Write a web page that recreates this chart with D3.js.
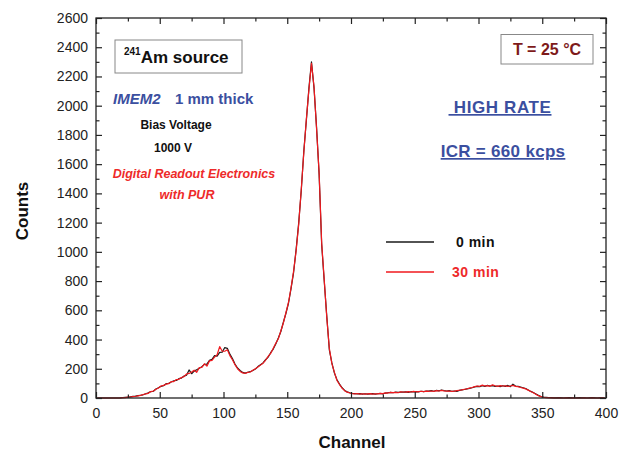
<!DOCTYPE html>
<meta charset="utf-8">
<style>
  body { margin: 0; background: #fff; }
  text { font-family: "Liberation Sans", Arial, sans-serif; }
</style>
<script src="https://cdn.jsdelivr.net/npm/d3@7"></script>
<div id="chart"></div>
<script>

// channels sampled every 2 (odd channels 1..399)
var channels = d3.range(1, 400, 2);

// 0 min spectrum (black)
var counts0 = [
  0,0,0,0,0,0,0,0,0,0,
  2,4,5,8,11,13,16,19,22,29,
  35,44,46,62,70,80,84,98,100,110,
  118,120,132,136,150,156,192,166,184,194,
  204,214,230,232,258,264,290,286,312,314,
  345,340,300,270,232,205,188,175,170,176,
  180,188,198,215,228,240,262,280,310,335,
  370,410,455,520,580,650,750,860,1020,1200,
  1420,1690,1900,2120,2300,2120,1850,1530,1050,800,
  560,330,240,170,125,95,70,52,42,36,
  32,30,28,30,27,29,26,28,30,27,
  29,31,28,34,36,38,36,40,38,41,
  40,42,39,43,41,44,42,46,44,48,
  47,50,46,52,49,55,51,48,50,46,
  48,45,52,55,58,62,66,70,76,80,
  78,84,80,86,82,85,80,82,78,84,
  80,86,78,95,82,80,75,70,65,55,
  45,38,28,18,10,6,4,2,2,1,
  1,2,1,0,1,2,1,0,1,2,1,1,0,1,2,1,0,1,1,0
];

// 30 min spectrum (red)
var counts30 = [
  0,0,0,0,0,0,0,0,0,1,
  3,3,6,7,10,12,15,18,24,28,
  32,44,48,60,68,82,86,95,98,112,
  112,126,128,140,146,164,168,178,190,176,
  208,210,234,218,254,258,280,296,352,320,
  320,330,290,262,228,200,182,172,168,175,
  178,190,200,212,225,238,258,285,305,340,
  375,405,460,515,585,655,755,870,1010,1190,
  1430,1680,1910,2110,2290,2130,1840,1540,1060,810,
  550,340,235,175,120,92,68,50,40,34,
  30,28,31,27,29,26,28,30,27,29,
  28,32,30,35,34,38,37,39,36,42,
  41,40,43,41,45,42,44,46,43,47,
  46,48,45,50,48,52,49,47,48,45,
  47,50,53,56,60,63,68,72,78,82,
  80,88,82,85,80,90,84,80,85,82,
  84,80,82,86,80,78,72,68,62,54,
  44,36,26,16,9,5,3,2,1,1,
  0,1,0,0,1,0,0,1,0,0,0,1,0,0,1,0,0,0,1,0
];

var xTicks = [0, 50, 100, 150, 200, 250, 300, 350, 400];
var xMinor = [25, 75, 125, 175, 225, 275, 325, 375];
var yTicks = d3.range(0, 2601, 200);
var yMinor = d3.range(100, 2600, 200);

var seriesNames = ["0 min", "30 min"];
var seriesColors = ["#1a1a1a", "#f0191e"];

var margin = {top: 18, right: 19, bottom: 53, left: 96},
    width = 625 - margin.left - margin.right,
    height = 451 - margin.top - margin.bottom;

var svg = d3.select("#chart")
  .append("svg")
    .attr("width", 625)
    .attr("height", 451);

var g = svg.append("g")
    .attr("transform", "translate(" + margin.left + "," + margin.top + ")");

var x = d3.scaleLinear().domain([0, 400]).range([0, width]);
var y = d3.scaleLinear().domain([0, 2600]).range([height, 0]);

// lines
var line = function(vals) {
  return d3.line()
    .x(function(d, i) { return x(channels[i]); })
    .y(function(d) { return y(d); })(vals);
};

[counts0, counts30].forEach(function(vals, k) {
  g.append("path")
    .attr("d", line(vals))
    .attr("fill", "none")
    .attr("stroke", seriesColors[k])
    .attr("stroke-width", 1.2)
    .attr("stroke-linejoin", "round");
});

// axes, ticks pointing inward on all four sides
function styleAxis(sel) {
  sel.select(".domain").remove();
  sel.selectAll("line").attr("stroke", "#222").attr("stroke-width", 1.2);
  sel.selectAll("text").attr("font-size", 14).attr("fill", "#222")
    .style("font-family", "'Liberation Sans', Arial, sans-serif");
}

var fmt = d3.format("d");

g.append("g").attr("transform", "translate(0," + height + ")")
  .call(d3.axisBottom(x).tickValues(xTicks).tickSize(-6).tickPadding(10).tickFormat(fmt))
  .call(styleAxis);
g.append("g").attr("transform", "translate(0," + height + ")")
  .call(d3.axisBottom(x).tickValues(xMinor).tickSize(-3.5).tickFormat(""))
  .call(styleAxis);
g.append("g")
  .call(d3.axisTop(x).tickValues(xTicks).tickSize(-6).tickFormat(""))
  .call(styleAxis);
g.append("g")
  .call(d3.axisTop(x).tickValues(xMinor).tickSize(-3.5).tickFormat(""))
  .call(styleAxis);

g.append("g")
  .call(d3.axisLeft(y).tickValues(yTicks).tickSize(-6).tickPadding(8).tickFormat(fmt))
  .call(styleAxis);
g.append("g")
  .call(d3.axisLeft(y).tickValues(yMinor).tickSize(-3.5).tickFormat(""))
  .call(styleAxis);
g.append("g").attr("transform", "translate(" + width + ",0)")
  .call(d3.axisRight(y).tickValues(yTicks).tickSize(-6).tickFormat(""))
  .call(styleAxis);
g.append("g").attr("transform", "translate(" + width + ",0)")
  .call(d3.axisRight(y).tickValues(yMinor).tickSize(-3.5).tickFormat(""))
  .call(styleAxis);

// frame
g.append("rect")
  .attr("width", width).attr("height", height)
  .attr("fill", "none").attr("stroke", "#222").attr("stroke-width", 1.3);

// axis titles
svg.append("text")
  .attr("x", 352).attr("y", 448)
  .attr("text-anchor", "middle")
  .attr("font-size", 17).attr("font-weight", "bold").attr("fill", "#111")
  .text("Channel");
svg.append("text")
  .attr("transform", "translate(28,211) rotate(-90)")
  .attr("text-anchor", "middle")
  .attr("font-size", 17).attr("font-weight", "bold").attr("fill", "#111")
  .text("Counts");

// annotations
var blue = "#3b4fa0";

svg.append("rect")
  .attr("x", 115).attr("y", 40).attr("width", 127).attr("height", 33)
  .attr("fill", "#fff").attr("stroke", "#888").attr("stroke-width", 1);
var am = svg.append("text").attr("x", 124).attr("y", 63)
  .attr("font-weight", "bold").attr("fill", "#111");
am.append("tspan").attr("font-size", 10).attr("dy", -8).text("241");
am.append("tspan").attr("font-size", 17).attr("dy", 8).text("Am source");

var im = svg.append("text").attr("x", 113).attr("y", 104)
  .attr("font-weight", "bold").attr("fill", blue).attr("font-size", 15);
im.append("tspan").attr("font-style", "italic").text("IMEM2");
im.append("tspan").attr("x", 175).text("1 mm thick");

svg.append("text").attr("x", 176).attr("y", 129)
  .attr("text-anchor", "middle")
  .attr("font-weight", "bold").attr("font-size", 12).attr("fill", "#111")
  .text("Bias Voltage");
svg.append("text").attr("x", 173).attr("y", 152)
  .attr("text-anchor", "middle")
  .attr("font-weight", "bold").attr("font-size", 12).attr("fill", "#111")
  .text("1000 V");
svg.append("text").attr("x", 194).attr("y", 178)
  .attr("text-anchor", "middle")
  .attr("font-weight", "bold").attr("font-style", "italic")
  .attr("font-size", 12.5).attr("fill", "#ee2a2a")
  .text("Digital Readout Electronics");
svg.append("text").attr("x", 187).attr("y", 199)
  .attr("text-anchor", "middle")
  .attr("font-weight", "bold").attr("font-style", "italic")
  .attr("font-size", 12.5).attr("fill", "#ee2a2a")
  .text("with PUR");

svg.append("rect")
  .attr("x", 501).attr("y", 34.5).attr("width", 92).attr("height", 29.5)
  .attr("fill", "#fff").attr("stroke", "#888").attr("stroke-width", 1);
svg.append("text").attr("x", 547).attr("y", 55)
  .attr("text-anchor", "middle")
  .attr("font-weight", "bold").attr("font-size", 16).attr("fill", "#7e1a1a")
  .text("T = 25 °C");

svg.append("text").attr("x", 500).attr("y", 113)
  .attr("text-anchor", "middle")
  .attr("font-weight", "bold").attr("font-size", 17).attr("fill", blue)
  .attr("text-decoration", "underline").attr("letter-spacing", 0.6)
  .style("white-space", "pre")
  .text(" HIGH RATE");
svg.append("text").attr("x", 503).attr("y", 157)
  .attr("text-anchor", "middle")
  .attr("font-weight", "bold").attr("font-size", 17).attr("fill", blue)
  .attr("text-decoration", "underline").attr("letter-spacing", 0.3)
  .text("ICR = 660 kcps");

// legend
var legend = svg.append("g");
seriesNames.forEach(function(name, k) {
  var ly = 242 + k * 30;
  legend.append("line")
    .attr("x1", 386).attr("x2", 434).attr("y1", ly).attr("y2", ly)
    .attr("stroke", seriesColors[k]).attr("stroke-width", 1.3);
  legend.append("text")
    .attr("x", k === 0 ? 456 : 452).attr("y", ly + 5)
    .attr("font-weight", "bold").attr("font-size", 14)
    .attr("fill", k === 0 ? "#111" : "#ee2a2a")
    .attr("letter-spacing", 0.5)
    .text(name);
});

</script>
